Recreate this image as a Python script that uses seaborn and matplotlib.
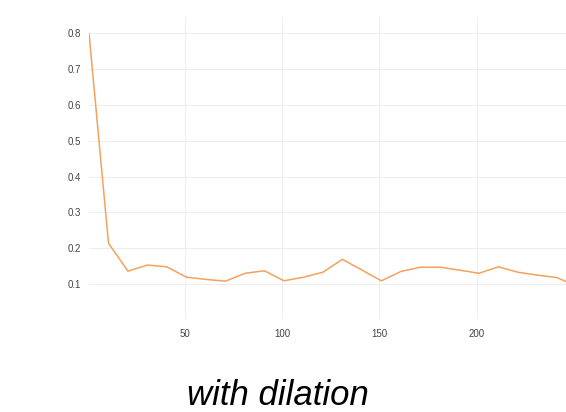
import matplotlib
matplotlib.use("Agg")
import matplotlib.pyplot as plt
import seaborn as sns
import pandas as pd

steps = [1, 11, 21, 31, 41, 51, 61, 71, 81, 91, 101, 111, 121, 131, 141,
         151, 161, 171, 181, 191, 201, 211, 221, 231, 241, 251]
loss = [0.800, 0.214, 0.136, 0.153, 0.148, 0.119, 0.113, 0.108, 0.130, 0.137,
        0.109, 0.119, 0.133, 0.169, 0.139, 0.109, 0.135, 0.147, 0.147, 0.139,
        0.130, 0.148, 0.133, 0.125, 0.118, 0.095]
x_ticks = [50, 100, 150, 200]
y_ticks = [0.1, 0.2, 0.3, 0.4, 0.5, 0.6, 0.7, 0.8]
title = "with dilation"

sns.set_theme(style="white")
plt.rcParams['font.family'] = ['Liberation Sans', 'DejaVu Sans']

df = pd.DataFrame({"step": steps, "loss": loss})

fig = plt.figure(figsize=(5.66, 4.12), dpi=100)
ax = fig.add_axes([89/566, 1 - 319/412, 1 - 89/566, (319 - 17)/412])
sns.lineplot(data=df, x="step", y="loss", ax=ax, color="#f5a15c", linewidth=1.1)

ax.set_xlim(1, 245.7)
ax.set_ylim(0.0024, 0.8456)
ax.set_xticks(x_ticks)
ax.set_yticks(y_ticks)
ax.set_xticklabels([str(v) for v in x_ticks])
ax.set_yticklabels([f"{v:.1f}" for v in y_ticks])
ax.grid(True, color="#eeeeee", linewidth=0.8)
for s in ax.spines.values():
    s.set_visible(False)
ax.tick_params(axis="both", length=0, labelsize=7, labelcolor="#444444")
ax.tick_params(axis="y", pad=6)
ax.tick_params(axis="x", pad=7)
ax.set_xlabel("")
ax.set_ylabel("")

fig.text(277.5/566, 1 - 405/412, title, ha="center", va="baseline",
         fontsize=25, style="italic", color="black")

fig.savefig("out.png", dpi=100)
